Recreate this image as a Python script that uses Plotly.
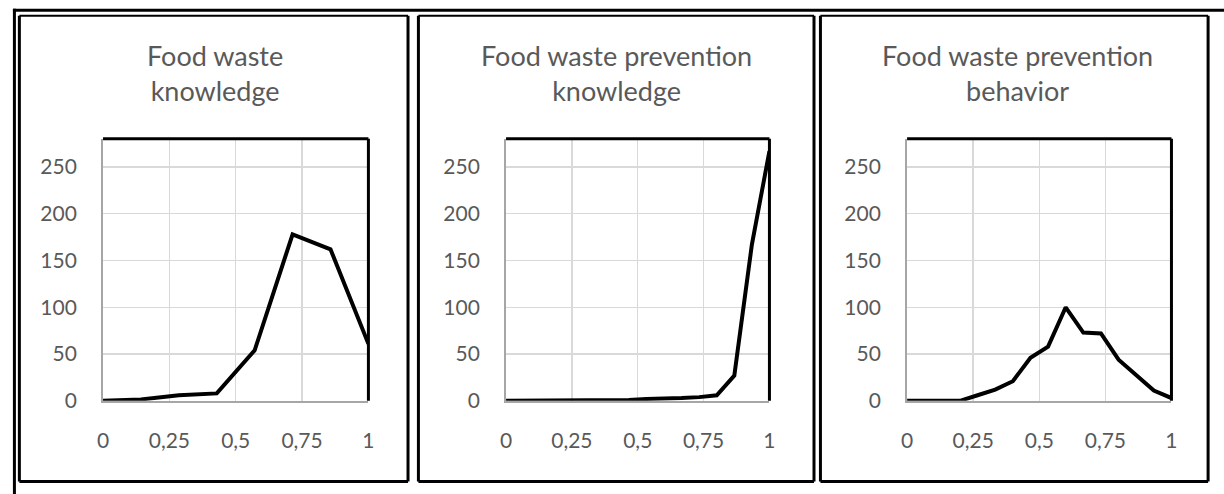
import plotly.graph_objects as go

W, H = 1224, 494

# ---- data ----
titles = ["Food waste<br>knowledge", "Food waste prevention<br>knowledge", "Food waste prevention<br>behavior"]

x1 = [0, 1/7, 2/7, 3/7, 4/7, 5/7, 6/7, 1]
y1 = [0, 1.5, 6, 8, 54, 178, 162, 61]

x2 = [k/15 for k in range(16)]
y2 = [0, 0, 0, 1, 1, 1, 1, 1, 2, 2, 3, 4, 6, 27, 167, 267]

x3 = [k/15 for k in range(16)]
y3 = [0, 0, 0, 0, 6, 12, 21, 46, 58, 100, 73, 72, 44, 28, 11, 3]

xtickvals = [0, 0.25, 0.5, 0.75, 1]
xticktext = ["0", "0,25", "0,5", "0,75", "1"]
ytickvals = [0, 50, 100, 150, 200, 250]

series = [(x1, y1), (x2, y2), (x3, y3)]

# ---- layout geometry (window pixels) ----
plot_x = [(98, 366), (505, 771), (910, 1177)]
plot_top, plot_bot = 142, 410
title_cx = [211, 617, 1022]
title_cy = 75

def px(x):
    return x / W

def py(y):
    return 1 - y / H

FONT = "Lato"
TXT = "#595959"

fig = go.Figure()
layout = dict(
    width=W, height=H,
    margin=dict(l=0, r=0, t=0, b=0),
    paper_bgcolor="white", plot_bgcolor="white",
    showlegend=False,
    font=dict(family=FONT, color=TXT),
)

shapes = []
annotations = []
for i, ((xs, ys), (xa, xb)) in enumerate(zip(series, plot_x)):
    n = "" if i == 0 else str(i + 1)
    fig.add_trace(go.Scatter(x=xs, y=ys, mode="lines",
                             line=dict(color="black", width=4),
                             xaxis="x" + n, yaxis="y" + n,
                             cliponaxis=False, hoverinfo="skip"))
    layout["xaxis" + n] = dict(
        domain=[px(xa), px(xb)], range=[0, 1], anchor="y" + n,
        tickvals=xtickvals, ticktext=xticktext,
        showgrid=True, gridcolor="#d9d9d9", gridwidth=1.5,
        showline=True, linecolor="#a6a6a6", linewidth=2,
        zeroline=False, ticks="", ticklabelstandoff=20,
        tickfont=dict(size=21, color=TXT, family=FONT),
    )
    layout["yaxis" + n] = dict(
        domain=[py(plot_bot), py(plot_top)], range=[0, 280], anchor="x" + n,
        tickvals=ytickvals,
        showgrid=True, gridcolor="#d9d9d9", gridwidth=1.5,
        showline=True, linecolor="#a6a6a6", linewidth=2,
        zeroline=False, ticks="", ticklabelstandoff=20,
        tickfont=dict(size=21, color=TXT, family=FONT),
    )
    shapes.append(dict(type="line", xref="x" + n + " domain", yref="y" + n + " domain",
                       x0=0, x1=1, y0=1, y1=1, line=dict(color="black", width=3), layer="above"))
    shapes.append(dict(type="line", xref="x" + n + " domain", yref="y" + n + " domain",
                       x0=1, x1=1, y0=0, y1=1, line=dict(color="black", width=3), layer="above"))
    annotations.append(dict(text=titles[i], xref="paper", yref="paper",
                            x=px(title_cx[i]), y=py(title_cy), xanchor="center", yanchor="middle",
                            showarrow=False, align="center",
                            font=dict(size=27, color=TXT, family=FONT)))

def pline(x0, y0, x1_, y1_, w=3):
    shapes.append(dict(type="line", xref="paper", yref="paper",
                       x0=px(x0), y0=py(y0), x1=px(x1_), y1=py(y1_),
                       line=dict(color="black", width=w)))

pline(7, 10.5, 1240, 10.5, 3)     # outer top
pline(8.5, 9, 8.5, 510, 3)        # outer left
cells = [(13.5, 406), (416.5, 816), (822.5, 1214)]
for a, b in cells:
    pline(a, 16, b, 16, 2)
    pline(a, 16, a, 492.5, 3)
    pline(b, 16, b, 492.5, 3)
    pline(a, 492.5, b, 492.5, 3)

layout["shapes"] = shapes
layout["annotations"] = annotations
layout["hovermode"] = False
fig.update_layout(**layout)
fig.write_html("out.html",
               config={"displayModeBar": False, "staticPlot": True},
               post_script="document.body.style.margin='0';document.body.style.overflow='hidden';")
